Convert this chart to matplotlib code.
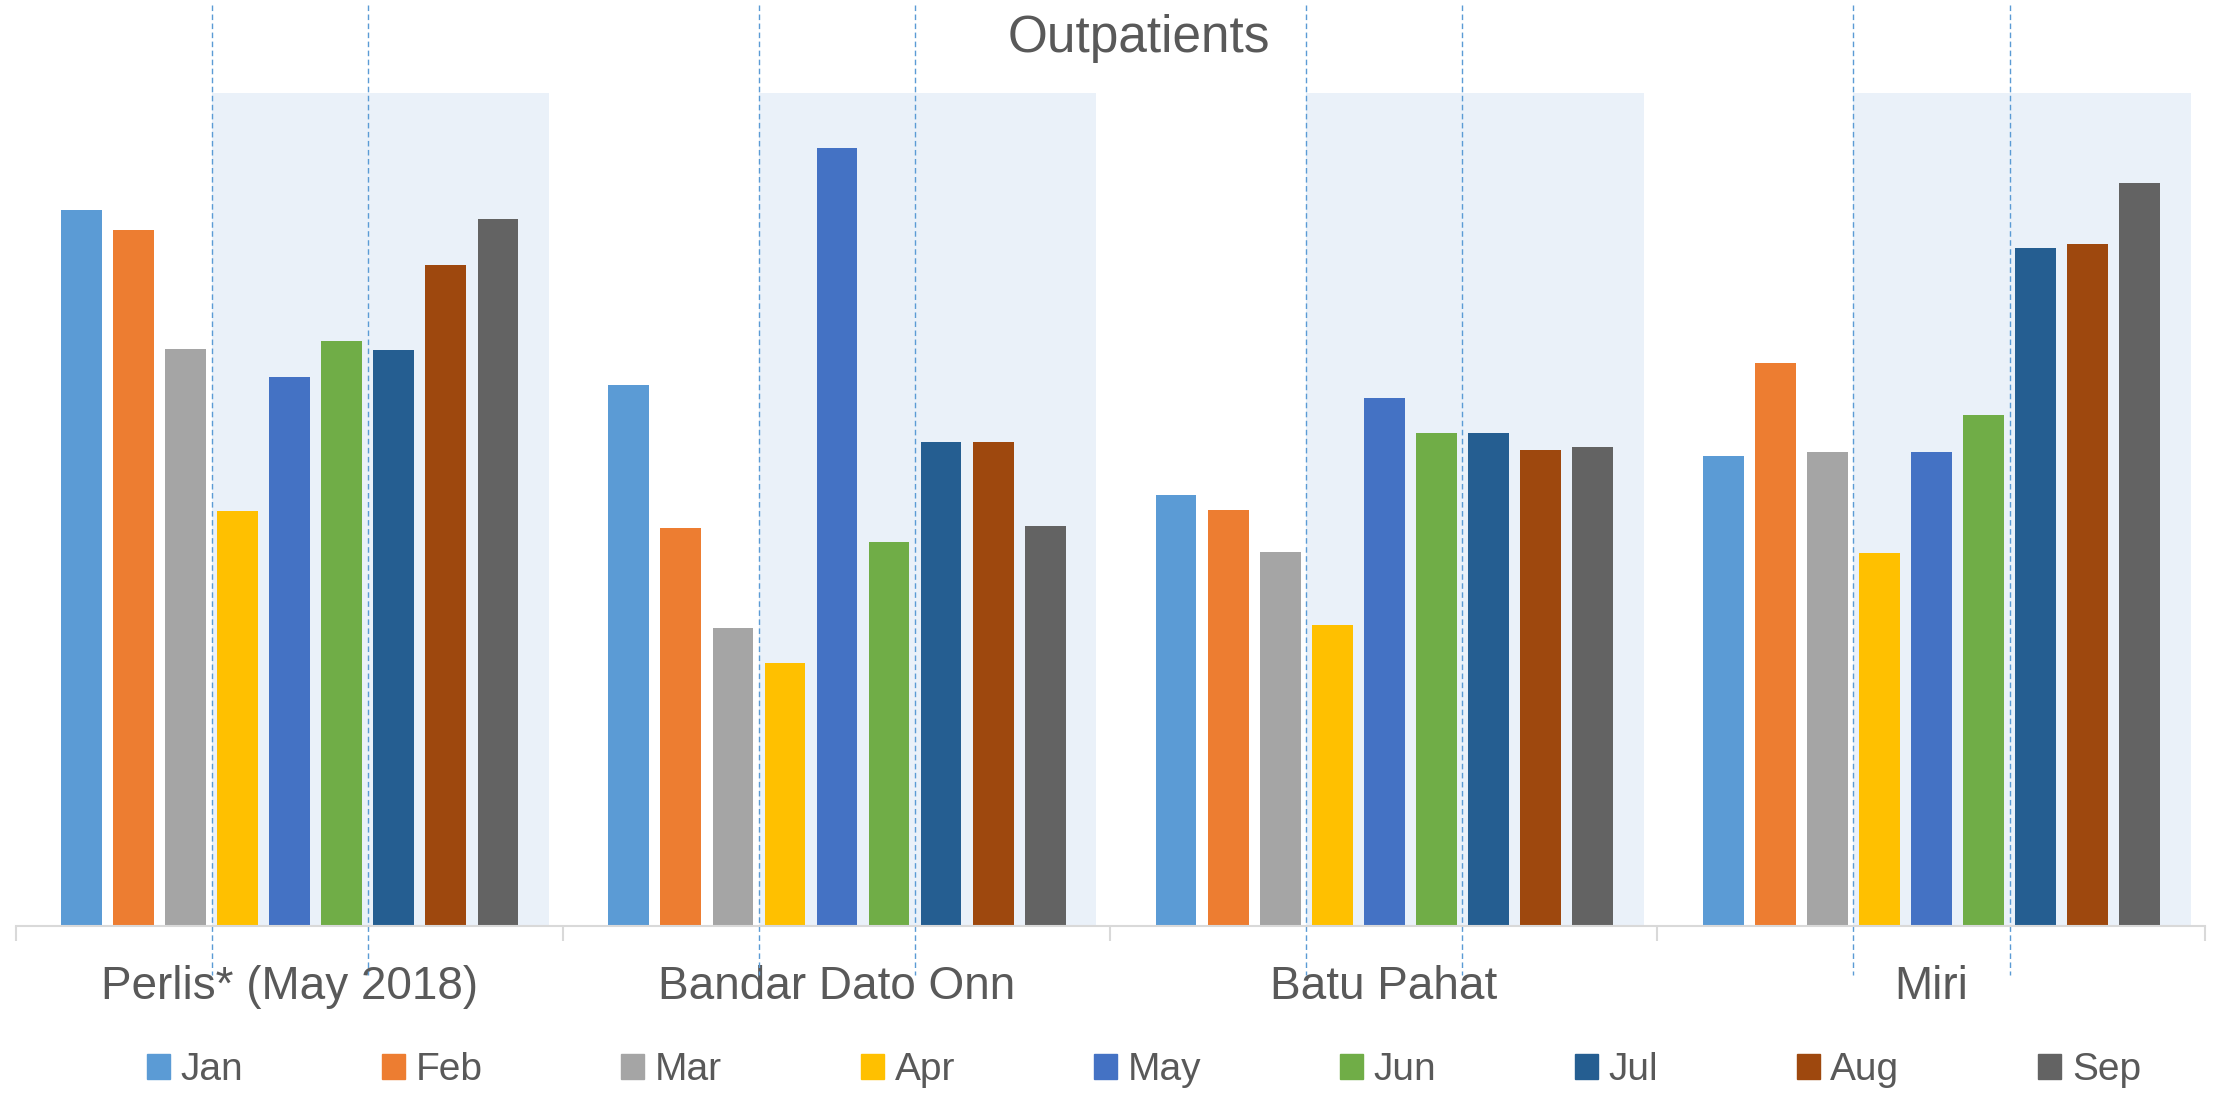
import numpy as np
import matplotlib.pyplot as plt
import matplotlib.patches as mpatches
from matplotlib.transforms import blended_transform_factory

# values (relative bar heights, no y axis in the original)
hospitals = ["Perlis* (May 2018)", "Bandar Dato Onn", "Batu Pahat", "Miri"]
months = ["Jan", "Feb", "Mar", "Apr", "May", "Jun", "Jul", "Aug", "Sep"]
jan = [507, 383, 305, 333]
feb = [493, 282, 295, 399]
mar = [409, 211, 265, 336]
apr = [294, 186, 213, 264]
may = [389, 551, 374, 336]
jun = [414, 272, 349, 362]
jul = [408, 343, 349, 480]
aug = [468, 343, 337, 483]
sep = [501, 283, 339, 526]
series = [jan, feb, mar, apr, may, jun, jul, aug, sep]
colors = ["#5B9BD5", "#ED7D31", "#A5A5A5", "#FFC000", "#4472C4",
          "#70AD47", "#255E91", "#9E480E", "#636363"]

plt.rcParams["font.family"] = ["Liberation Sans Narrow", "DejaVu Sans Condensed",
                               "Liberation Sans", "DejaVu Sans"]
txt = "#595959"
grey = "#D9D9D9"

W, H = 2213, 1093
fig = plt.figure(figsize=(W / 100, H / 100), dpi=100)
ax = fig.add_axes([15.5 / W, 1 - 926 / H, 2189 / W, (926 - 93) / H])

# bar layout inside one category (category width = 1)
start = 0.0835
pitch = 0.0951
width = 0.0745
edge = lambda k: start + k * pitch - (pitch - width) / 2

x = np.arange(len(hospitals))
for j, vals in enumerate(series):
    ax.bar(x + start + j * pitch, vals, width=width, align="edge",
           color=colors[j], label=months[j], zorder=3)

# shaded Apr-Sep window and dashed separators
blend = blended_transform_factory(ax.transData, fig.transFigure)
for i in x:
    ax.axvspan(i + edge(3), i + 0.975, color="#EAF1F9", zorder=1, lw=0)
    for k in (3, 6):
        ax.plot([i + edge(k)] * 2, [1 - 5 / H, 1 - 975 / H], transform=blend,
                clip_on=False, color="#5B9BD5", lw=1.0, dashes=(4, 2.5), zorder=4)

ax.set_xlim(0, len(hospitals))
ax.set_ylim(0, 590)
for s in ["left", "right", "top"]:
    ax.spines[s].set_visible(False)
ax.spines["bottom"].set_color(grey)
ax.spines["bottom"].set_linewidth(1.5)
ax.spines["bottom"].set_zorder(5)
ax.set_yticks([])

ax.set_xticks(x + 0.5)
ax.set_xticklabels(hospitals, fontsize=33, color=txt)
ax.set_xticks(np.arange(len(hospitals) + 1), minor=True)
ax.tick_params(axis="x", which="major", length=0, pad=52.6)
ax.tick_params(axis="x", which="minor", length=10.8, width=1.5, color=grey)
plt.setp(ax.get_xticklabels(), va="baseline")

fig.text(1139 / W, 1 - 52 / H, "Outpatients", fontsize=37, color=txt,
         ha="center", va="baseline")

handles = [mpatches.Patch(color=c, label=m) for c, m in zip(colors, months)]
fig.legend(handles=handles, ncol=9, loc="center", mode="expand",
           bbox_to_anchor=(147 / W, 1 - 1070 / H, (2141 - 147) / W, 0),
           frameon=False, fontsize=28, labelcolor=txt, borderpad=0,
           borderaxespad=0, handlelength=0.59, handleheight=0.62,
           handletextpad=0.28)

fig.savefig("out.png", dpi=100)
